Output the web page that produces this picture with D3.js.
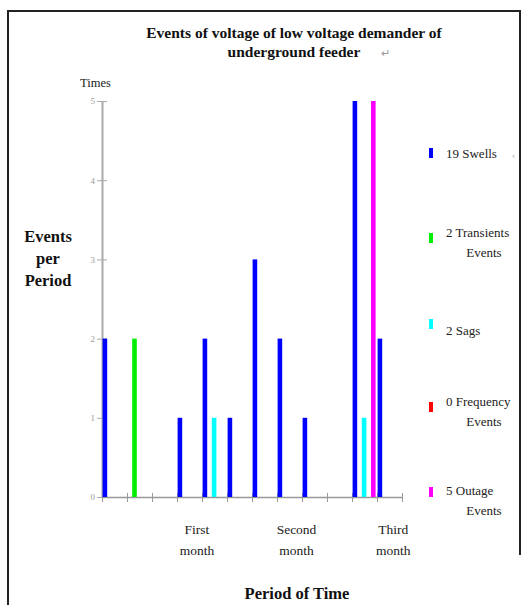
<!DOCTYPE html>
<html><head><meta charset="utf-8">
<script src="https://cdn.jsdelivr.net/npm/d3@7"></script>
<style>
html,body{margin:0;padding:0;background:#fff;}
svg{display:block;}
text{font-family:"Liberation Serif","Times New Roman",serif;}
</style></head>
<body>
<svg id="chart" width="526" height="605"></svg>
<script>
// ---- data ----
const periods = [0,1,2,3,4,5,6,7,8,9,10,11];
const seriesNames = ["Swells","Transients","Sags","Frequency","Outage"];
const seriesColors = ["#0000ff","#00ee00","#00ffff","#ff0000","#ff00ff"];
const swells     = [2,0,0,1,2,1,3,2,1,0,5,2];
const transients = [0,2,0,0,0,0,0,0,0,0,0,0];
const sags       = [0,0,0,0,1,0,0,0,0,0,1,0];
const frequency  = [0,0,0,0,0,0,0,0,0,0,0,0];
const outage     = [0,0,0,0,0,0,0,0,0,0,5,0];
const legendLabels = [["19 Swells"],["2 Transients","Events"],["2 Sags"],["0 Frequency","Events"],["5 Outage","Events"]];
const yTicks = [0,1,2,3,4,5];
const monthLabels = [["First","month"],["Second","month"],["Third","month"]];
const monthPos = [3.8, 7.78, 11.65];
const titleLines = ["Events of voltage of low voltage demander of","underground feeder"];

const seriesValues = [swells, transients, sags, frequency, outage];

const svg = d3.select("#chart");

// frame
svg.append("path").attr("d","M8,605 L8,11 L520,11 L520,555")
  .attr("fill","none").attr("stroke","#222").attr("stroke-width",2);

// scales
const x0 = d3.scaleBand().domain(periods).range([102,402]).paddingInner(0).paddingOuter(0);
const x1 = d3.scaleBand().domain(seriesNames).range([0.6,23.6]);
const xT = d3.scaleLinear().domain([0,12]).range([102,402]);
const y = d3.scaleLinear().domain([0,5]).range([497,101]);

// title
svg.append("text").attr("x",294).attr("y",38).attr("text-anchor","middle")
  .attr("font-size",15.5).attr("font-weight","bold").attr("fill","#111").text(titleLines[0]);
svg.append("text").attr("x",294).attr("y",57).attr("text-anchor","middle")
  .attr("font-size",15.5).attr("font-weight","bold").attr("fill","#111").text(titleLines[1]);
svg.append("text").attr("x",381).attr("y",57).attr("font-size",11).attr("fill","#999").text("↵");

// y label "Times"
svg.append("text").attr("x",80).attr("y",87).attr("font-size",12.5).attr("fill","#222").text("Times");

// y axis
const gy = svg.append("g").attr("transform","translate(102,0)")
  .call(d3.axisLeft(y).tickValues(yTicks).tickFormat(d3.format("d")).tickSize(0));
gy.select(".domain").attr("stroke","#aaa").attr("stroke-width",2);
gy.selectAll(".tick line").attr("x1",-5).attr("x2",5).attr("stroke","#aaa");
gy.selectAll(".tick text").attr("x",-7).attr("font-size",9).attr("fill","#999")
  .attr("font-family","Liberation Serif, serif");

// x axis
const gx = svg.append("g").attr("transform","translate(0,497)")
  .call(d3.axisBottom(xT).tickValues(d3.range(0,13)).tickFormat("").tickSize(0));
gx.select(".domain").attr("stroke","#999").attr("stroke-width",1.5);
gx.selectAll(".tick line").attr("y1",-4).attr("y2",5).attr("stroke","#999");

// bars
const rows = [];
seriesNames.forEach((s,si)=>{
  periods.forEach((p,pi)=>{
    const v = seriesValues[si][pi];
    if (v>0) rows.push({p, s, v, c: seriesColors[si]});
  });
});
svg.append("g").selectAll("rect").data(rows).join("rect")
  .attr("x", d => x0(d.p) + x1(d.s))
  .attr("width", x1.bandwidth())
  .attr("y", d => y(d.v))
  .attr("height", d => y(0) - y(d.v))
  .attr("fill", d => d.c);

// month labels
monthLabels.forEach((lines,i)=>{
  lines.forEach((t,j)=>{
    svg.append("text").attr("x", xT(monthPos[i])).attr("y", 534 + j*21)
      .attr("text-anchor","middle").attr("font-size",13.5).attr("fill","#222").text(t);
  });
});

// axis titles
["Events","per","Period"].forEach((t,i)=>{
  svg.append("text").attr("x",48).attr("y",242 + i*22).attr("text-anchor","middle")
    .attr("font-size",16.5).attr("font-weight","bold").attr("fill","#111").text(t);
});
svg.append("text").attr("x",297).attr("y",599).attr("text-anchor","middle")
  .attr("font-size",16.5).attr("font-weight","bold").attr("fill","#111").text("Period of Time");

// legend
const legY = [153, 238, 324, 407, 492];
const leg = svg.append("g");
seriesNames.forEach((s,i)=>{
  leg.append("rect").attr("x",429).attr("y",legY[i]-5).attr("width",4).attr("height",10)
    .attr("fill",seriesColors[i]);
  const lines = legendLabels[i];
  if (lines.length===1){
    leg.append("text").attr("x",446).attr("y",legY[i]+(i===2?11:5)).attr("font-size",13)
      .attr("fill","#222").text(lines[0]);
  } else {
    const base = legY[i] + (i===4 ? 3 : -1);
    leg.append("text").attr("x",446).attr("y",base).attr("font-size",13).attr("fill","#222").text(lines[0]);
    leg.append("text").attr("x",484).attr("y",base+20).attr("text-anchor","middle")
      .attr("font-size",13).attr("fill","#222").text(lines[1]);
  }
});
leg.append("text").attr("x",512).attr("y",158).attr("font-size",9).attr("fill","#999").text("‹");
</script>
</body></html>
